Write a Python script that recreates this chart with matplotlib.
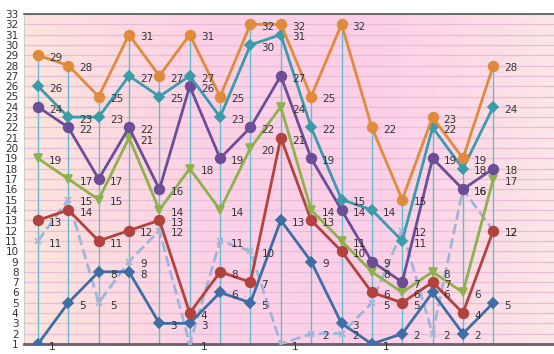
import numpy as np
import matplotlib
matplotlib.use('Agg')
import matplotlib.pyplot as plt
from matplotlib.colors import LinearSegmentedColormap

# 16 points per series
x = list(range(16))
orange = [29, 28, 25, 31, 27, 31, 25, 32, 32, 25, 32, 22, 15, 23, 19, 28]
teal = [26, 23, 23, 27, 25, 27, 23, 30, 31, 22, 15, 14, 11, 22, 18, 24]
purple = [24, 22, 17, 22, 16, 26, 19, 22, 27, 19, 14, 9, 7, 19, 16, 18]
green = [19, 17, 15, 21, 14, 18, 14, 20, 24, 14, 11, 8, 6, 8, 6, 17]
red = [13, 14, 11, 12, 13, 4, 8, 7, 21, 13, 10, 6, 5, 7, 4, 12]
dashed = [11, 15, 5, 9, 12, 1, 11, 10, 1, 2, 2, 5, 12, 2, 16, 12]
blue = [1, 5, 8, 8, 3, 3, 6, 5, 13, 9, 3, 1, 2, 6, 2, 5]
yticks = list(range(1, 34))

fig = plt.figure(figsize=(5.54, 3.54), dpi=100)
ax = fig.add_axes([24 / 554, 10 / 354, 530 / 554, 330 / 354])
ax.set_xlim(-0.46, 17.0)
ax.set_ylim(1, 33)

# pink gradient background
cmap = LinearSegmentedColormap.from_list('bg', ['#fde4dc', '#fcd2e6', '#fccfe8', '#fde6e6'])
grad = np.linspace(0, 1, 256).reshape(1, -1)
ax.imshow(grad, aspect='auto', cmap=cmap, extent=[-0.46, 17.0, 1, 33], zorder=0)

# horizontal grid lines
for v in yticks:
    ax.axhline(v, color='#e6bcd8', lw=0.9, zorder=1)

# drop lines from highest point
series = [orange, teal, purple, green, red, dashed, blue]
tops = [max(s[i] for s in series) for i in x]
ax.vlines(x, 1, tops, color='#62bccb', lw=1.0, zorder=2)

styles = [
    (dashed, '#9fb6d8', 'x', '--', 4),
    (blue, '#3e6ea6', 'D', '-', 5),
    (red, '#b2423d', 'o', '-', 7),
    (green, '#8db24b', 'v', '-', 6),
    (purple, '#6b4e97', 'o', '-', 7),
    (teal, '#3a9bab', 'D', '-', 5),
    (orange, '#e08a3c', 'o', '-', 7),
]
for vals, col, mk, ls, ms in styles:
    ax.plot(x, vals, color=col, lw=2.0, ls=ls, marker=mk, ms=ms,
            markeredgewidth=1.2, zorder=3)
    for xi, v in zip(x, vals):
        ax.annotate(str(v), (xi, v), xytext=(8, -2), textcoords='offset points',
                    ha='left', va='center', fontsize=7.5, color='#333333', zorder=4)

ax.set_xticks([])
ax.set_yticks(yticks)
ax.tick_params(axis='y', length=0, labelsize=7.5, pad=4, colors='#333333')
ax.spines['right'].set_visible(False)
ax.spines['left'].set_color('#d8c8d0')
ax.spines['left'].set_linewidth(0.8)
ax.spines['top'].set_color('#555555')
ax.spines['top'].set_linewidth(1.2)
ax.spines['bottom'].set_color('#6e5a6e')
ax.spines['bottom'].set_linewidth(2)

fig.savefig('out.png', dpi=100)
